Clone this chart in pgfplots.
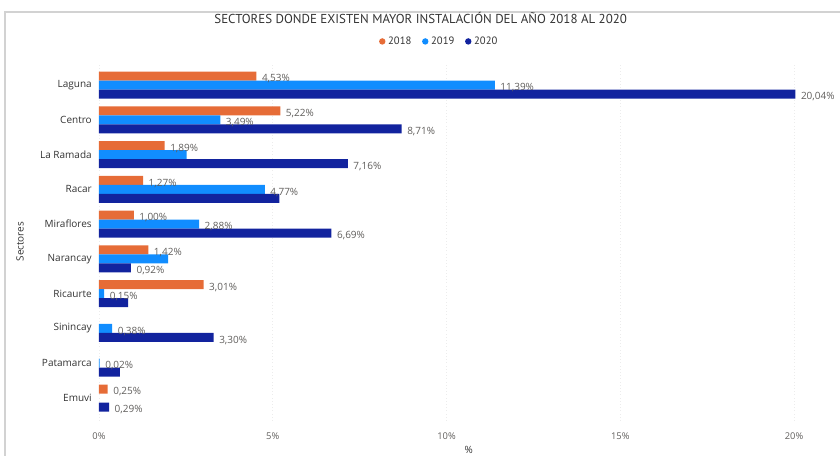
\documentclass[border=0pt]{standalone}
\usepackage{fontspec}
\setmainfont{Open Sans}
\newfontfamily\titlefont{PT Sans}
\usepackage{pgfplots}
\usepackage{pgfplotstable}
\pgfplotsset{compat=1.18}
\definecolor{c2018}{HTML}{E66C37}
\definecolor{c2019}{HTML}{118DFF}
\definecolor{c2020}{HTML}{12239E}
\definecolor{txt}{HTML}{605E5C}
\definecolor{ttl}{HTML}{333333}

\pgfplotstableread{
y x lab
9 4.53 4,53
8 5.22 5,22
7 1.89 1,89
6 1.27 1,27
5 1.00 1,00
4 1.42 1,42
3 3.01 3,01
0 0.25 0,25
}\dataA
\pgfplotstableread{
y x lab
9 11.39 11,39
8 3.49 3,49
7 2.52 x
6 4.77 4,77
5 2.88 2,88
4 1.99 x
3 0.15 0,15
2 0.38 0,38
1 0.02 0,02
}\dataB
\pgfplotstableread{
y x lab
9 20.04 20,04
8 8.71 8,71
7 7.16 7,16
6 5.19 x
5 6.69 6,69
4 0.92 0,92
3 0.84 x
2 3.30 3,30
1 0.60 x
0 0.29 0,29
}\dataC

\newcommand\mylab{\edef\tmpa{\pgfplotspointmeta}\def\tmpb{x}\ifx\tmpa\tmpb\else\tmpa\%\fi}

\begin{document}
\begin{tikzpicture}
\path[use as bounding box] (0,0) rectangle (630pt,342pt);
\draw[gray!35, line width=0.8pt] (3.75pt,0) -- (3.75pt,333pt) -- (630pt,333pt);
\node[font=\titlefont\fontsize{9.7}{10}\selectfont, text=ttl] at (315.5pt,328.5pt) {SECTORES DONDE EXISTEN MAYOR INSTALACIÓN DEL AÑO 2018 AL 2020};
\begin{axis}[
  at={(74.25pt,26.55pt)}, anchor=south west,
  scale only axis, width=533.25pt, height=268.5pt,
  xbar, bar width=6.75pt,
  xmin=0, xmax=20.46, ymin=-0.65, ymax=9.65,
  enlargelimits=false,
  axis line style={draw=none},
  tick style={draw=none}, major tick length=0pt,
  xtick={0,5,10,15,20},
  xticklabels={0\%,5\%,10\%,15\%,20\%},
  xticklabel style={anchor=center, yshift=-11.5pt, font=\fontsize{7}{8}\selectfont, text=txt},
  ytick={0,...,9},
  yticklabels={Emuvi,Patamarca,Sinincay,Ricaurte,Narancay,Miraflores,Racar,La Ramada,Centro,Laguna},
  yticklabel style={anchor=east, inner sep=0pt, xshift=-5.25pt, font=\fontsize{7.5}{8}\selectfont, text=ttl},
  xmajorgrids, grid style={gray!15, dotted},
  every axis y label/.style={at={(axis description cs:-0.111,0.5)}, rotate=90, anchor=center, font=\fontsize{7.5}{8}\selectfont, text=ttl},
  every axis x label/.style={at={(axis description cs:0.52,-0.0821)}, anchor=center, font=\fontsize{7.5}{8}\selectfont, text=ttl},
  ylabel={Sectores}, xlabel={\%},
  point meta=explicit symbolic,
  nodes near coords={\mylab},
  every node near coord/.append style={anchor=west, xshift=3pt, yshift=-2pt, font=\fontsize{7.5}{8}\selectfont, text=txt, inner sep=1pt},
  legend columns=3,
  legend style={at={(axis description cs:0.479,1.058)}, anchor=center, draw=none, fill=none, font=\titlefont\fontsize{8}{9}\selectfont, text=ttl, inner sep=0pt, /tikz/every even column/.append style={column sep=6pt}, /tikz/every odd column/.append style={column sep=0pt}},
]
\addplot[fill=c2018, draw=none, bar shift=6.75pt, legend image code/.code={\fill[c2018] (0.26cm,0.3pt) circle (2.4pt);}] table[x=x, y=y, meta=lab] {\dataA};
\addplot[fill=c2019, draw=none, bar shift=0pt, legend image code/.code={\fill[c2019] (0.26cm,0.3pt) circle (2.4pt);}] table[x=x, y=y, meta=lab] {\dataB};
\addplot[fill=c2020, draw=none, bar shift=-6.75pt, legend image code/.code={\fill[c2020] (0.26cm,0.3pt) circle (2.4pt);}] table[x=x, y=y, meta=lab] {\dataC};
\legend{2018,2019,2020}
\end{axis}
\end{tikzpicture}
\end{document}
